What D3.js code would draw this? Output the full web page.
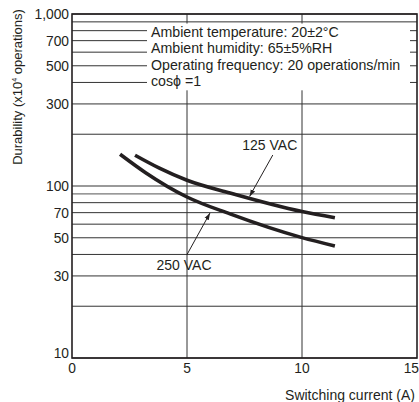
<!DOCTYPE html>
<html><head><meta charset="utf-8">
<script src="https://cdn.jsdelivr.net/npm/d3@7"></script>
<style>
html,body{margin:0;padding:0;background:#fff;}
svg{display:block;font-family:"Liberation Sans",Arial,Helvetica,sans-serif;}
</style></head>
<body>
<svg id="chart" width="419" height="402"></svg>
<script>
// ---- data ----
const current125 = [2.74, 3.8, 5, 6.87, 10, 11.43];
const durability125 = [151, 127, 108, 91, 71, 65.4];
const current250 = [2.09, 3.2, 5, 6.87, 10, 11.43];
const durability250 = [153, 119.5, 86.3, 68.8, 50.1, 44.8];
const xTickValues = [0, 5, 10, 15];
const xTickLabels = ["0", "5", "10", "15"];
const yTickValues = [10, 30, 50, 70, 100, 300, 500, 700, 1000];
const yTickLabels = ["10", "30", "50", "70", "100", "300", "500", "700", "1,000"];
const conditions = ["Ambient temperature: 20\u00b12\u00b0C", "Ambient humidity: 65\u00b15%RH", "Operating frequency: 20 operations/min", "cos\u03d5 =1"];
const seriesLabels = ["125 VAC", "250 VAC"];
// annotation anchors in data units: [labelX, labelY, arrowFromX, arrowFromY, arrowToX, arrowToY]
const annot125 = [8.6, 161.8, 8.73, 151.4, 7.72, 86.9];
const annot250 = [4.87, 32.5, 4.99, 39.7, 6.0, 69.7];

const svg = d3.select("#chart");
const L = 72, R = 417, T = 14, B = 358;
const x = d3.scaleLinear().domain([0, 15]).range([L, R]);
const y = d3.scaleLog().domain([10, 1000]).range([B, T]);
const ink = "#231f20";

// grid
const g = svg.append("g");
g.selectAll("line.h").data(y.ticks()).enter().append("line")
  .attr("x1", L).attr("x2", R).attr("y1", d => y(d)).attr("y2", d => y(d))
  .attr("stroke", d => (d === 100 || d === 90) ? "#777" : "#333")
  .attr("stroke-width", d => (d === 100 || d === 90) ? 1.3 : 1);
g.selectAll("line.v").data([5, 10]).enter().append("line")
  .attr("x1", d => x(d)).attr("x2", d => x(d)).attr("y1", T).attr("y2", B)
  .attr("stroke", "#333").attr("stroke-width", 1);

// conditions box
const boxTop = y(880), boxBottom = y(360);
svg.append("rect").attr("x", 147).attr("y", boxTop).attr("width", 263).attr("height", boxBottom - boxTop)
  .attr("fill", "#fff");
svg.selectAll("text.cond").data(conditions).enter().append("text")
  .attr("x", 151).attr("y", (d, i) => 37 + i * 16.4)
  .attr("font-size", 14.2).attr("fill", ink).text(d => d);

// frame
svg.append("rect").attr("x", L).attr("y", T).attr("width", R - L).attr("height", B - T)
  .attr("fill", "none").attr("stroke", ink).attr("stroke-width", 1.6);

// curves
const line = d3.line().x(d => x(d[0])).y(d => y(d[1])).curve(d3.curveMonotoneX);
[[current125, durability125], [current250, durability250]].forEach(([cx, cy]) => {
  svg.append("path").datum(cx.map((v, i) => [v, cy[i]])).attr("d", line)
    .attr("fill", "none").attr("stroke", ink).attr("stroke-width", 3.6).attr("stroke-linecap", "butt");
});

// annotations
svg.append("defs").append("marker").attr("id", "ah").attr("viewBox", "0 0 10 10")
  .attr("refX", 10).attr("refY", 5).attr("markerWidth", 7).attr("markerHeight", 7)
  .attr("markerUnits", "userSpaceOnUse").attr("orient", "auto")
  .append("path").attr("d", "M0,1.5 L10,5 L0,8.5 Z").attr("fill", ink);
[[annot125, seriesLabels[0]], [annot250, seriesLabels[1]]].forEach(([a, lab]) => {
  svg.append("line").attr("x1", x(a[2])).attr("y1", y(a[3])).attr("x2", x(a[4])).attr("y2", y(a[5]))
    .attr("stroke", ink).attr("stroke-width", 1).attr("marker-end", "url(#ah)");
  svg.append("text").attr("x", x(a[0])).attr("y", y(a[1])).attr("text-anchor", "middle")
    .attr("font-size", 14).attr("fill", ink).text(lab);
});

// y tick labels
svg.selectAll("text.yt").data(yTickValues).enter().append("text")
  .attr("x", 69).attr("y", d => y(d) + (d === 10 ? -0.5 : 5)).attr("text-anchor", "end")
  .attr("font-size", 13.8).attr("fill", ink).text((d, i) => yTickLabels[i]);
// x tick labels
svg.selectAll("text.xt").data(xTickValues).enter().append("text")
  .attr("x", d => d === 15 ? 419 : x(d)).attr("y", 372.5)
  .attr("text-anchor", d => d === 15 ? "end" : "middle")
  .attr("font-size", 13.8).attr("fill", ink).text((d, i) => xTickLabels[i]);

// axis titles
svg.append("text").attr("x", 415).attr("y", 399.5).attr("text-anchor", "end")
  .attr("font-size", 14).attr("fill", ink).text("Switching current (A)");
const yt = svg.append("text").attr("transform", "translate(22,87) rotate(-90)")
  .attr("text-anchor", "middle").attr("font-size", 13).attr("fill", ink);
yt.append("tspan").text("Durability (x10");
yt.append("tspan").attr("font-size", 7).attr("dy", -5).text("4");
yt.append("tspan").attr("dy", 5).text(" operations)");
</script>
</body></html>
